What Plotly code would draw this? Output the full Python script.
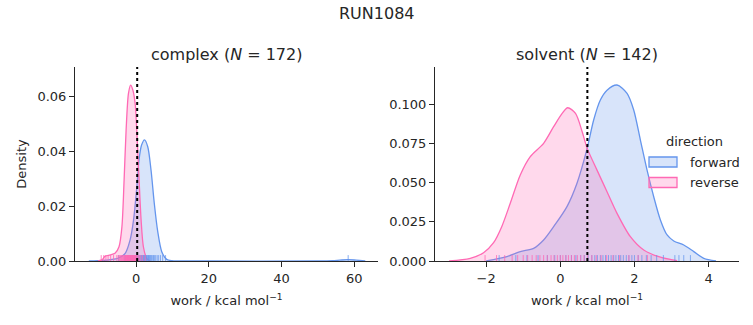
import plotly.graph_objects as go

# ---------------- data ----------------
suptitle = "RUN1084"
panel_titles = ["complex (<i>N</i> = 172)", "solvent (<i>N</i> = 142)"]
directions = ["forward", "reverse"]
legend_title = "direction"

# complex phase: KDE curves (x in kcal/mol, density)
complex_fwd_x = [-13, -9, -7, -5, -3, -1.65, -0.7, 0.2, 0.8, 1.5, 2.3, 3.2, 4.1, 5.0, 5.95,
                 7.05, 8.4, 9.8, 12, 20, 50, 54, 56, 58.3, 60.5, 63]
complex_fwd_y = [0, 0.0002, 0.0005, 0.001, 0.0028, 0.0077, 0.015, 0.0271, 0.0369, 0.0423, 0.0442,
                 0.0417, 0.0332, 0.021, 0.0107, 0.0034, 0.0006, 0.0001, 0, 0, 0, 0.0001, 0.0003,
                 0.0005, 0.0003, 0]
complex_rev_x = [-10.5, -9.4, -8.5, -7.1, -5.8, -4.7, -3.9, -3.3, -2.75, -2.1, -1.5, -0.9, -0.27,
                 0.18, 0.82, 1.37, 2.0, 2.9, 3.9]
complex_rev_y = [0, 0.0004, 0.0018, 0.0022, 0.0028, 0.0052, 0.0125, 0.0296, 0.0478, 0.0612, 0.0642,
                 0.0624, 0.0575, 0.0478, 0.0296, 0.015, 0.0052, 0.001, 0]

# solvent phase: KDE curves
solvent_fwd_x = [-2.0, -1.44, -1.08, -0.72, -0.45, -0.18, 0.18, 0.45, 0.72, 0.90, 1.08, 1.26, 1.53,
                 1.80, 1.98, 2.16, 2.34, 2.52, 2.70, 2.88, 3.06, 3.33, 3.60, 3.87, 4.2]
solvent_fwd_y = [0, 0.0028, 0.006, 0.0081, 0.0134, 0.0219, 0.0347, 0.0496, 0.0715, 0.090, 0.1027,
                 0.109, 0.1123, 0.107, 0.0964, 0.0772, 0.058, 0.041, 0.0262, 0.0166, 0.0128, 0.0102,
                 0.006, 0.0017, 0]
solvent_rev_x = [-3.0, -2.43, -2.07, -1.80, -1.58, -1.35, -1.08, -0.81, -0.45, -0.18, 0.05, 0.20,
                 0.41, 0.59, 0.72, 0.99, 1.26, 1.53, 1.89, 2.25, 2.70, 3.15]
solvent_rev_y = [0, 0.0017, 0.0053, 0.0117, 0.0219, 0.0368, 0.0549, 0.0666, 0.0751, 0.0857, 0.0942,
                 0.0978, 0.0942, 0.0825, 0.0722, 0.058, 0.0442, 0.0304, 0.0155, 0.007, 0.0024, 0.0002]

# rug (individual work values, estimated)
complex_fwd_rug = [-4.8, -3.1, -2.2, -1.6, -1.1, -0.8, -0.4, -0.1, 0.2, 0.5, 0.7, 0.9, 1.1, 1.3, 1.5,
                   1.7, 1.8, 2.0, 2.1, 2.3, 2.4, 2.6, 2.7, 2.9, 3.0, 3.2, 3.4, 3.5, 3.7, 3.9, 4.1,
                   4.3, 4.6, 4.8, 5.1, 5.4, 5.8, 6.2, 6.7, 7.3, 8.1, 58.3]
complex_rev_rug = [-9.6, -8.9, -8.3, -7.7, -7.0, -6.2, -5.3, -4.9, -4.6, -4.3, -4.0, -3.8, -3.6,
                   -3.4, -3.3, -3.1, -3.0, -2.9, -2.8, -2.7, -2.6, -2.5, -2.4, -2.3, -2.2, -2.1,
                   -2.0, -1.9, -1.8, -1.7, -1.6, -1.5, -1.4, -1.3, -1.2, -1.1, -1.0, -0.9, -0.8,
                   -0.7, -0.6, -0.5, -0.4, -0.3, -0.2, -0.1, 0.1, 0.3, 0.6, 0.9, 1.3, 1.8, 2.5]
solvent_fwd_rug = [-1.65, -1.2, -0.9, -0.6, -0.35, -0.15, 0.0, 0.15, 0.3, 0.42, 0.55, 0.65, 0.75,
                   0.85, 0.93, 1.0, 1.08, 1.15, 1.22, 1.3, 1.37, 1.44, 1.5, 1.57, 1.63, 1.7, 1.78,
                   1.85, 1.93, 2.0, 2.1, 2.2, 2.32, 2.45, 2.6, 2.78, 3.09, 3.2, 3.33, 3.51]
solvent_rev_rug = [-2.03, -1.72, -1.5, -1.3, -1.15, -1.0, -0.88, -0.76, -0.65, -0.55, -0.45, -0.35,
                   -0.25, -0.17, -0.08, 0.0, 0.07, 0.15, 0.22, 0.3, 0.38, 0.46, 0.55, 0.64, 0.74,
                   0.85, 0.97, 1.1, 1.25, 1.42, 1.6, 1.85, 2.1, 2.35]

# estimated free energies (dotted lines)
complex_dg = 0.3
solvent_dg = 0.73

# axis ticks
complex_xticks = [0, 20, 40, 60]
complex_yticks = [0.00, 0.02, 0.04, 0.06]
solvent_xticks = [-2, 0, 2, 4]
solvent_yticks = [0.000, 0.025, 0.050, 0.075, 0.100]

# ---------------- styling ----------------
W, H = 753, 325
FONT = "DejaVu Sans"
TXT = "#262626"
line_col = {"forward": "#6495ED", "reverse": "#FF69B4"}
fill_col = {"forward": "rgba(100,149,237,0.25)", "reverse": "rgba(255,105,180,0.25)"}
rug_col = {"forward": "rgba(100,149,237,0.75)", "reverse": "rgba(255,105,180,0.8)"}

complex_range_x = [-16.8, 66.5]
complex_range_y = [0, 0.0708]
solvent_range_x = [-3.38, 4.82]
solvent_range_y = [0, 0.1238]


def px(xp):
    return xp / W


def py(yp):
    return (H - yp) / H


fig = go.Figure()

panels = [
    dict(ax="x", ay="y",
         curves={"forward": (complex_fwd_x, complex_fwd_y), "reverse": (complex_rev_x, complex_rev_y)},
         rugs={"forward": complex_fwd_rug, "reverse": complex_rev_rug},
         yr=complex_range_y),
    dict(ax="x2", ay="y2",
         curves={"forward": (solvent_fwd_x, solvent_fwd_y), "reverse": (solvent_rev_x, solvent_rev_y)},
         rugs={"forward": solvent_fwd_rug, "reverse": solvent_rev_rug},
         yr=solvent_range_y),
]

for p in panels:
    for d in directions:
        xs, ys = p["curves"][d]
        fig.add_trace(go.Scatter(
            x=xs, y=ys, mode="lines", name=d, showlegend=False,
            line=dict(color=line_col[d], width=1.3, shape="spline", smoothing=0.8),
            fill="tozeroy", fillcolor=fill_col[d], xaxis=p["ax"], yaxis=p["ay"],
        ))
    for d in directions:
        r = p["rugs"][d]
        yr = p["yr"][1] * 0.0125
        fig.add_trace(go.Scatter(
            x=r, y=[yr] * len(r), mode="markers", name=d, showlegend=False, hoverinfo="x",
            marker=dict(symbol="line-ns", size=5, line=dict(width=1, color=rug_col[d])),
            xaxis=p["ax"], yaxis=p["ay"],
        ))

for xref, yref, dg in [("x", "y domain", complex_dg), ("x2", "y2 domain", solvent_dg)]:
    fig.add_shape(type="line", xref=xref, yref=yref, x0=dg, x1=dg, y0=0, y1=1,
                  line=dict(color="black", width=2, dash="dot"))

ydom = [py(261), py(67)]
xdom1 = [px(75), px(378)]
xdom2 = [px(435), px(739)]

axis_common = dict(showline=True, linecolor=TXT, linewidth=1, ticks="outside", ticklen=5,
                   tickwidth=1, tickcolor=TXT, showgrid=False, zeroline=False,
                   tickfont=dict(size=13, color=TXT, family=FONT))
xlabel = "work / kcal mol<sup>−1</sup>"

fig.update_layout(
    width=W, height=H, margin=dict(l=0, r=0, t=0, b=0, autoexpand=False),
    plot_bgcolor="white", paper_bgcolor="white",
    font=dict(family=FONT, color=TXT, size=13),
    xaxis=dict(domain=xdom1, range=complex_range_x, tickvals=complex_xticks, anchor="y",
               title=dict(text=xlabel, font=dict(size=13), standoff=11), **axis_common),
    yaxis=dict(domain=ydom, range=complex_range_y, tickvals=complex_yticks, tickformat=".2f",
               anchor="x", title=dict(text="Density", font=dict(size=13), standoff=7), **axis_common),
    xaxis2=dict(domain=xdom2, range=solvent_range_x, tickvals=solvent_xticks, anchor="y2",
                title=dict(text=xlabel, font=dict(size=13), standoff=11), **axis_common),
    yaxis2=dict(domain=ydom, range=solvent_range_y, tickvals=solvent_yticks, tickformat=".3f",
                anchor="x2", **axis_common),
    showlegend=False,
)

# titles
fig.add_annotation(text=suptitle, x=0.5, y=py(13), xref="paper", yref="paper",
                   showarrow=False, font=dict(size=16, color=TXT), xanchor="center", yanchor="middle")
for t, dom in zip(panel_titles, [xdom1, xdom2]):
    fig.add_annotation(text=t, x=(dom[0] + dom[1]) / 2, y=py(54), xref="paper", yref="paper",
                       showarrow=False, font=dict(size=16, color=TXT), xanchor="center",
                       yanchor="middle")

# legend (seaborn style: title, patch with outline, label)
fig.add_annotation(text=legend_title, x=px(694), y=py(141), xref="paper", yref="paper",
                   showarrow=False, font=dict(size=13, color=TXT), xanchor="center", yanchor="middle")
for i, d in enumerate(directions):
    yc = 162 + 20.5 * i
    fig.add_shape(type="rect", xref="paper", yref="paper",
                  x0=px(649), x1=px(677), y0=py(yc + 5), y1=py(yc - 5),
                  fillcolor=fill_col[d], line=dict(color=line_col[d], width=1.3))
    fig.add_annotation(text=d, x=px(688), y=py(yc), xref="paper", yref="paper",
                       showarrow=False, font=dict(size=13, color=TXT), xanchor="left",
                       yanchor="middle")

fig.write_html("out.html")
